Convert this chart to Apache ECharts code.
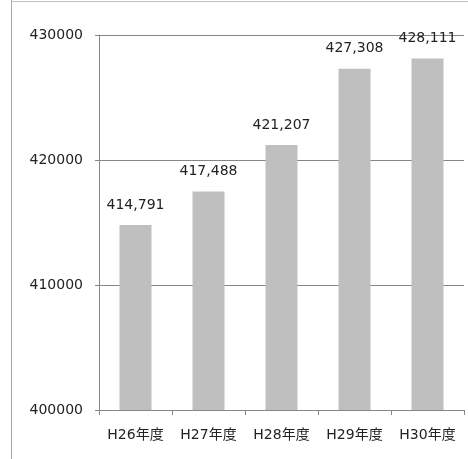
<!DOCTYPE html>
<html>
<head>
<meta charset="utf-8">
<script src="https://cdn.jsdelivr.net/npm/echarts@6/dist/echarts.min.js"></script>
<style>
html,body{margin:0;padding:0;background:#fff;}
#c{width:468px;height:459px;}
</style>
</head>
<body>
<div id="c"></div>
<script>
const categories = ['H26年度','H27年度','H28年度','H29年度','H30年度'];
const values = [414791, 417488, 421207, 427308, 428111];
const yMin = 400000, yMax = 430000, yStep = 10000;

const chart = echarts.init(document.getElementById('c'));
const font = '"DejaVu Sans", Verdana, "Noto Sans CJK JP", sans-serif';
chart.setOption({
  animation: false,
  backgroundColor: '#fff',
  graphic: [
    {type:'line', shape:{x1:11.5,y1:0,x2:11.5,y2:459}, style:{stroke:'#a6a6a6',lineWidth:1}},
    {type:'line', shape:{x1:11,y1:1.5,x2:468,y2:1.5}, style:{stroke:'#bfbfbf',lineWidth:1}}
  ],
  grid: {left: 99, right: 4, top: 35, bottom: 49, containLabel: false},
  xAxis: {
    type: 'category',
    data: categories,
    axisLine: {lineStyle: {color: '#868686'}},
    axisTick: {show: true, length: 5, lineStyle: {color: '#868686'}},
    axisLabel: {color: '#222', fontSize: 14, fontFamily: font, margin: 18, interval: 0, hideOverlap: false}
  },
  yAxis: {
    type: 'value',
    min: yMin, max: yMax, interval: yStep,
    axisLine: {show: true, lineStyle: {color: '#868686'}},
    axisTick: {show: true, length: 4, lineStyle: {color: '#868686'}},
    splitLine: {lineStyle: {color: '#868686'}},
    axisLabel: {color: '#222', fontSize: 14, fontFamily: font, margin: 16, formatter: v => String(v)}
  },
  series: [{
    type: 'bar',
    data: values,
    barWidth: 32,
    itemStyle: {color: '#bfbfbf'},
    label: {
      show: true, position: 'top', distance: 13,
      color: '#222', fontSize: 14, fontFamily: font,
      formatter: p => p.value.toLocaleString('en-US')
    }
  }]
});
</script>
</body>
</html>
